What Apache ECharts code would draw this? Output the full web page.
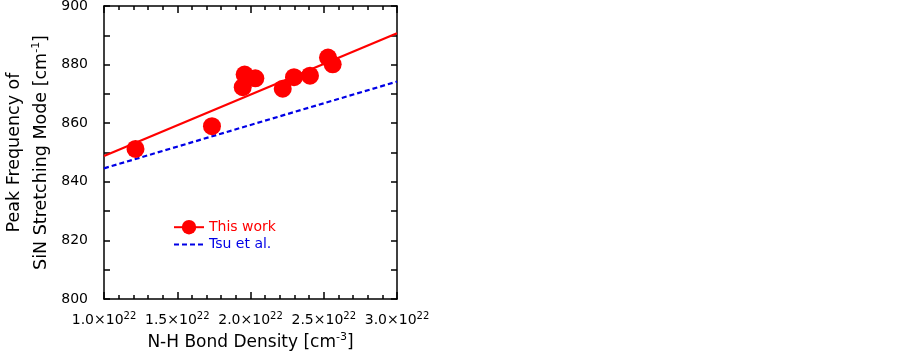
<!DOCTYPE html>
<html>
<head>
<meta charset="utf-8">
<script src="https://cdn.jsdelivr.net/npm/echarts@6/dist/echarts.min.js"></script>
<style>
  html, body { margin: 0; padding: 0; background: #fff; }
  #chart { width: 903px; height: 351px; }
</style>
</head>
<body>
<div id="chart"></div>
<script>
// N-H bond density in units of 1e22 cm^-3
const nhDensity = [1.215, 1.737, 1.947, 1.960, 2.033, 2.220, 2.297, 2.406, 2.529, 2.561];
const peakFreq = [851.2, 859.0, 872.3, 876.6, 875.3, 871.8, 875.7, 876.2, 882.4, 880.1];
// fitted lines (end points at the axis limits)
const fitThisWork = [[1.0, 848.8], [3.0, 890.7]];
const fitTsu = [[1.0, 844.6], [3.0, 874.2]];

const FONT = "DejaVu Sans";
const chart = echarts.init(document.getElementById("chart"));

const tickLabel = {
  color: "#000",
  fontFamily: FONT,
  fontSize: 14,
};

const option = {
  animation: false,
  backgroundColor: "#fff",
  grid: { left: 104, right: 506, top: 6, bottom: 52, outerBoundsMode: "none" },
  legend: {
    orient: "vertical",
    left: 168,
    top: 215,
    itemWidth: 30,
    itemHeight: 18,
    itemGap: 3,
    textStyle: { fontFamily: FONT, fontSize: 14 },
    data: [
      { name: "This work", textStyle: { color: "#ff0000" } },
      { name: "Tsu et al.", textStyle: { color: "#0000e6" }, itemStyle: { opacity: 0 } },
    ],
  },
  xAxis: [
    {
      type: "value",
      min: 1.0,
      max: 3.0,
      interval: 0.5,
      position: "bottom",
      name: "N-H Bond Density [cm{s|-3}]",
      nameLocation: "middle",
      nameGap: 33,
      nameTextStyle: {
        fontFamily: FONT,
        fontSize: 17,
        color: "#000",
        rich: { s: { fontFamily: FONT, fontSize: 11, padding: [0, 0, 10, 0] } },
      },
      axisLine: { lineStyle: { color: "#000", width: 1.5 } },
      axisTick: { inside: true, length: 7, lineStyle: { color: "#000", width: 1.5 } },
      minorTick: { show: true, splitNumber: 5, length: 4, lineStyle: { color: "#000", width: 1.5 } },
      splitLine: { show: false },
      axisLabel: {
        margin: 12,
        formatter: (v) => "{b|" + v.toFixed(1) + "×10}{s|22}",
        rich: {
          b: tickLabel,
          s: { color: "#000", fontFamily: FONT, fontSize: 10, padding: [0, 0, 8, 0] },
        },
      },
    },
    {
      type: "value",
      min: 1.0,
      max: 3.0,
      interval: 0.5,
      position: "top",
      axisLine: { lineStyle: { color: "#000", width: 1.5 } },
      axisTick: { inside: true, length: 7, lineStyle: { color: "#000", width: 1.5 } },
      minorTick: { show: true, splitNumber: 5, length: 4, lineStyle: { color: "#000", width: 1.5 } },
      splitLine: { show: false },
      axisLabel: { show: false },
    },
  ],
  yAxis: [
    {
      type: "value",
      min: 800,
      max: 900,
      interval: 10,
      position: "left",
      name: "Peak Frequency of\nSiN Stretching Mode [cm{s|-1}]",
      nameLocation: "middle",
      nameRotate: 90,
      nameGap: 49,
      nameTextStyle: {
        fontFamily: FONT,
        fontSize: 17.5,
        color: "#000",
        lineHeight: 27,
        rich: { s: { fontFamily: FONT, fontSize: 11, padding: [0, 0, 10, 0] } },
      },
      axisLine: { lineStyle: { color: "#000", width: 1.5 } },
      axisTick: { inside: true, length: 6, lineStyle: { color: "#000", width: 1.5 } },
      splitLine: { show: false },
      axisLabel: {
        margin: 16,
        color: "#000",
        fontFamily: FONT,
        fontSize: 14,
        formatter: (v) => (v % 20 === 0 ? String(v) : ""),
      },
    },
    {
      type: "value",
      min: 800,
      max: 900,
      interval: 10,
      position: "right",
      axisLine: { lineStyle: { color: "#000", width: 1.5 } },
      axisTick: { inside: true, length: 6, lineStyle: { color: "#000", width: 1.5 } },
      splitLine: { show: false },
      axisLabel: { show: false },
    },
  ],
  series: [
    {
      name: "This work",
      type: "line",
      data: fitThisWork,
      symbol: "circle",
      symbolSize: 18,
      showSymbol: false,
      color: "#ff0000",
      lineStyle: { color: "#ff0000", width: 2.2 },
      z: 2,
    },
    {
      name: "This work",
      type: "scatter",
      data: nhDensity.map((x, i) => [x, peakFreq[i]]),
      symbol: "circle",
      symbolSize: 18,
      itemStyle: { color: "#ff0000", opacity: 1 },
      z: 3,
    },
    {
      name: "Tsu et al.",
      type: "line",
      data: fitTsu,
      symbol: "none",
      color: "#0000e6",
      lineStyle: { color: "#0000e6", width: 2.2, type: [5, 3] },
      z: 2,
    },
  ],
};

chart.setOption(option);
window.addEventListener("resize", function () {
  chart.resize();
});
</script>
</body>
</html>
